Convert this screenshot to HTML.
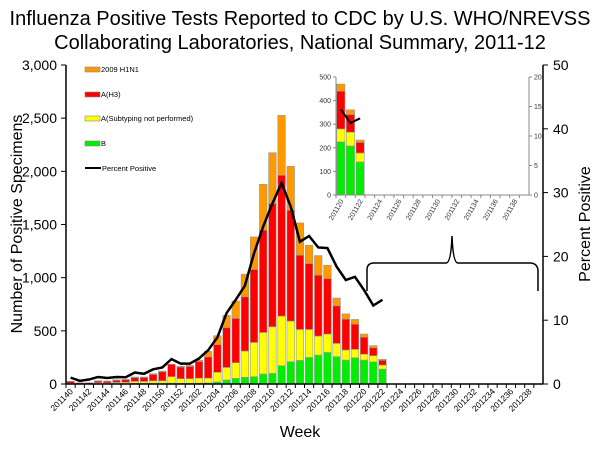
<!DOCTYPE html>
<html><head><meta charset="utf-8"><style>
body{margin:0;background:#fff;}
svg text{font-family:"Liberation Sans",Arial,sans-serif;}
</style></head><body>
<svg id="c" width="600" height="450" xmlns="http://www.w3.org/2000/svg">
<text x="300" y="25" font-size="20" text-anchor="middle">Influenza Positive Tests Reported to CDC by U.S. WHO/NREVSS</text>
<text x="300" y="49" font-size="20" text-anchor="middle">Collaborating Laboratories, National Summary, 2011-12</text>
<g id="plot"></g>
</svg>
<script>
const weeks=[];for(let w=40;w<=52;w++)weeks.push('2011'+w);for(let w=1;w<=39;w++)weeks.push('2012'+(w<10?'0'+w:w));
const seriesB=[2,1,1,3,3,4,4,6,6,5,5,8,6,6,8,10,20,38,53,63,69,94,100,172,210,222,250,272,297,257,225,247,225,208,140];
const seriesUnsub=[4,2,2,9,7,11,12,19,18,25,25,61,44,44,47,45,90,118,147,247,322,391,438,466,382,291,263,179,173,125,95,79,55,58,38];
const seriesH3=[19,9,9,16,16,20,24,35,38,60,85,116,110,115,155,200,260,373,417,510,686,961,1159,1325,1042,698,620,572,522,353,290,237,160,75,45];
const seriesH1N1=[0,0,0,3,2,5,4,6,4,7,7,0,6,10,15,52,84,116,163,213,306,432,478,563,413,304,172,185,125,73,50,44,30,20,10];
const pctPos=[1.0,0.5,0.7,1.1,0.95,1.1,1.05,1.8,1.6,2.3,2.6,3.9,3.2,3.2,4.0,5.3,7.3,11.1,13.2,15.4,20.5,24.7,28.3,31.5,27.8,22.3,23.2,21.4,21.3,18.4,16.3,16.8,14.7,12.3,13.2];
const leftTicks=[0,500,1000,1500,2000,2500,3000];
const leftTickLabels=['0','500','1,000','1,500','2,000','2,500','3,000'];
const rightTicks=[0,10,20,30,40,50];
const insetWeeks=[];for(let w=20;w<=39;w++)insetWeeks.push('2011'+w);
const insetB=[225,208,140];const insetUnsub=[55,58,38];const insetH3=[160,75,45];const insetH1N1=[30,20,10];
const insetPct=[14.5,12.2,13.0];
const insetLeftTicks=[0,100,200,300,400,500];const insetRightTicks=[0,5,10,15,20];

const NS='http://www.w3.org/2000/svg';const g=document.getElementById('plot');
function mk(t,a,p){const e=document.createElementNS(NS,t);for(const k in a)e.setAttribute(k,a[k]);(p||g).appendChild(e);return e;}
const X0=66,X1=543,Y0=384,Y1=65;const bw=(X1-X0)/weeks.length;
const yL=v=>Y0-(v/3000)*(Y0-Y1);const yR=v=>Y0-(v/50)*(Y0-Y1);const xB=i=>X0+i*bw;
const colors=['#00ee00','#ffff00','#ff0000','#ff9900'];const series=[seriesB,seriesUnsub,seriesH3,seriesH1N1];
const names=['b','unsubtyped','h3','h1n1'];
for(let i=0;i<seriesB.length;i++){let acc=0;for(let s=0;s<4;s++){const v=series[s][i];if(v<=0)continue;
 const r=mk('rect',{x:xB(i)+0.8,y:yL(acc+v),width:bw-1.6,height:yL(acc)-yL(acc+v),fill:colors[s],stroke:'#999','stroke-width':0.6});
 
 acc+=v;}}
// axes
let a=mk('line',{x1:X0,y1:Y1,x2:X0,y2:Y0,stroke:'#000','stroke-width':1.5});
a=mk('line',{x1:X1,y1:Y1,x2:X1,y2:Y0,stroke:'#000','stroke-width':1.5});
a=mk('line',{x1:X0,y1:Y0,x2:X1,y2:Y0,stroke:'#000','stroke-width':1.5});
leftTicks.forEach((v,i)=>{mk('line',{x1:X0-5,y1:yL(v),x2:X0,y2:yL(v),stroke:'#000'});
 const t=mk('text',{x:X0-9,y:yL(v)+5,'font-size':14,'text-anchor':'end'});t.textContent=leftTickLabels[i];
 });
rightTicks.forEach(v=>{mk('line',{x1:X1,y1:yR(v),x2:X1+5,y2:yR(v),stroke:'#000'});
 const t=mk('text',{x:X1+10,y:yR(v)+5,'font-size':14});t.textContent=v;
 });
weeks.forEach((w,i)=>{mk('line',{x1:xB(i),y1:Y0,x2:xB(i),y2:Y0+4,stroke:'#000'});
 if(i%2==0){const cx=xB(i)+bw/2+3,cy=Y0+8;const t=mk('text',{x:cx,y:cy,'font-size':8.5,'text-anchor':'end',transform:`rotate(-45 ${cx} ${cy})`});t.textContent=w;
 }});
let pts=pctPos.map((v,i)=>(xB(i)+bw/2)+','+yR(v)).join(' ');
a=mk('polyline',{points:pts,fill:'none',stroke:'#000','stroke-width':2.5});
// axis titles
let t=mk('text',{x:300,y:437,'font-size':16,'text-anchor':'middle'});t.textContent='Week';
t=mk('text',{x:22,y:224,'font-size':16,'text-anchor':'middle',transform:'rotate(-90 22 224)'});t.textContent='Number of Positive Specimens';
t=mk('text',{x:590,y:224,'font-size':16,'text-anchor':'middle',transform:'rotate(-90 590 224)'});t.textContent='Percent Positive';
// legend
const leg=[['2009 H1N1','#ff9900',69],['A(H3)','#ff0000',94],['A(Subtyping not performed)','#ffff00',118],['B','#00ee00',143]];
leg.forEach(l=>{const r=mk('rect',{x:85,y:l[2]-2,width:15,height:5,fill:l[1],stroke:'#888','stroke-width':0.6});
 const tt=mk('text',{x:101,y:l[2]+3,'font-size':7.5});tt.textContent=l[0];});
mk('line',{x1:85,y1:168,x2:101,y2:168,stroke:'#000','stroke-width':2});
t=mk('text',{x:102,y:171,'font-size':7.5});t.textContent='Percent Positive';
// inset
const IX0=336,IX1=529,IY0=195,IY1=77;const ibw=(IX1-IX0)/insetWeeks.length;
const iyL=v=>IY0-(v/500)*(IY0-IY1);const iyR=v=>IY0-(v/20)*(IY0-IY1);const ixB=i=>IX0+i*ibw;
const iser=[insetB,insetUnsub,insetH3,insetH1N1];
for(let i=0;i<insetB.length;i++){let acc=0;for(let s=0;s<4;s++){const v=iser[s][i];
 const r=mk('rect',{x:ixB(i)+0.7,y:iyL(acc+v),width:ibw-1.4,height:iyL(acc)-iyL(acc+v),fill:colors[s],stroke:'#999','stroke-width':0.6});
 acc+=v;}}
mk('line',{x1:IX0,y1:IY1,x2:IX0,y2:IY0,stroke:'#888'});mk('line',{x1:IX1,y1:IY1,x2:IX1,y2:IY0,stroke:'#888'});mk('line',{x1:IX0,y1:IY0,x2:IX1,y2:IY0,stroke:'#888'});
insetLeftTicks.forEach(v=>{mk('line',{x1:IX0-3,y1:iyL(v),x2:IX0,y2:iyL(v),stroke:'#888'});const tt=mk('text',{x:IX0-5,y:iyL(v)+2.5,'font-size':7,'text-anchor':'end',fill:'#333'});tt.textContent=v;});
insetRightTicks.forEach(v=>{mk('line',{x1:IX1,y1:iyR(v),x2:IX1+3,y2:iyR(v),stroke:'#888'});const tt=mk('text',{x:IX1+5,y:iyR(v)+2.5,'font-size':7,fill:'#333'});tt.textContent=v;});
insetWeeks.forEach((w,i)=>{mk('line',{x1:ixB(i),y1:IY0,x2:ixB(i),y2:IY0+3,stroke:'#888'});
 if(i%2==0){const cx=ixB(i)+ibw/2+3,cy=IY0+6;const tt=mk('text',{x:cx,y:cy,'font-size':7,'text-anchor':'end',fill:'#333',transform:`rotate(-60 ${cx} ${cy})`});tt.textContent=w;}});
a=mk('polyline',{points:insetPct.map((v,i)=>(ixB(i)+ibw/2)+','+iyR(v)).join(' '),fill:'none',stroke:'#000','stroke-width':2});
// brace
a=mk('path',{d:'M367 291 L367 270 Q367 263 374 263 L446 263 Q451 263 452 236 Q453 263 458 263 L530 263 Q537 263 538 270 L538 291',fill:'none',stroke:'#000','stroke-width':1.5});

</script>
</body></html>
